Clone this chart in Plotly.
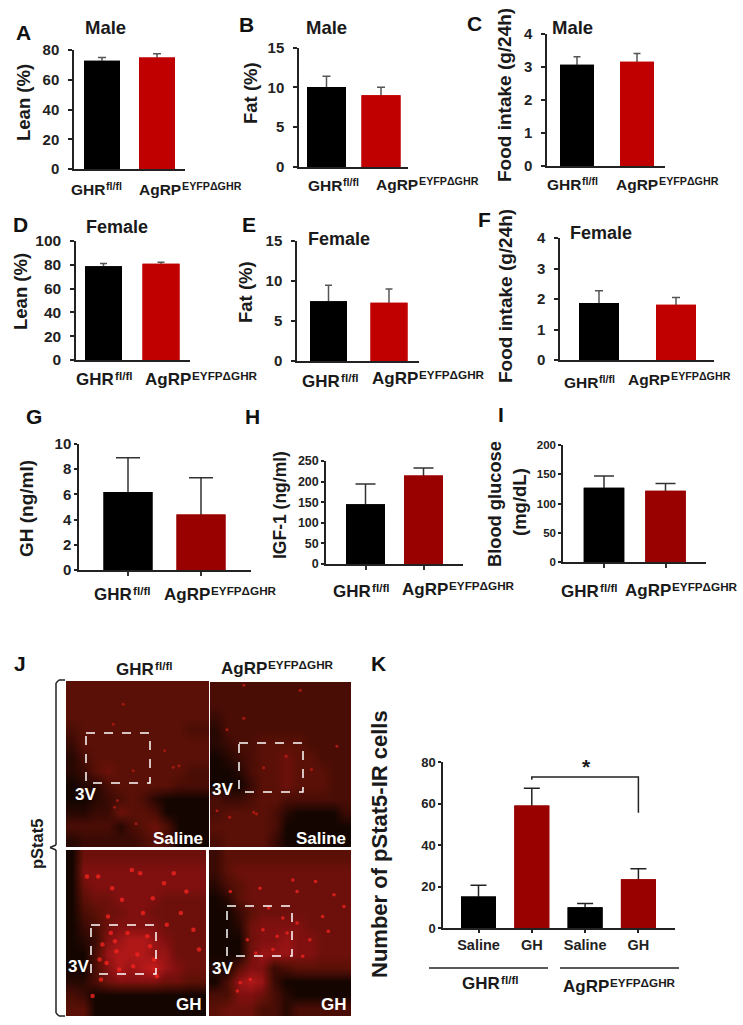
import plotly.graph_objects as go

W, H = 743, 1025
FONT = "Liberation Sans"
BLACK = "#000000"
RED_A = "#c00000"
RED_B = "#990000"

# ---------- data ----------
groups = ["GHR fl/fl", "AgRP EYFP\u0394GHR"]
lean_male = [72.8, 75.0];    lean_male_err = [2.2, 2.5]
fat_male = [10.05, 9.0];     fat_male_err = [1.35, 1.0]
food_male = [3.07, 3.16];    food_male_err = [0.24, 0.25]
lean_female = [78.8, 80.8];  lean_female_err = [2.2, 1.4]
fat_female = [7.48, 7.27];   fat_female_err = [2.0, 1.73]
food_female = [1.87, 1.81];  food_female_err = [0.40, 0.24]
gh = [6.2, 4.4];             gh_err = [2.7, 2.93]
igf1 = [145, 215];           igf1_err = [49, 18]
glucose = [127, 122];        glucose_err = [20, 12]
k_labels = ["Saline", "GH", "Saline", "GH"]
k_values = [15.2, 59, 10, 23.5]
k_err = [5.4, 8.4, 1.8, 5.1]
k_bracket_x = [1, 1, 3, 3]
k_bracket_y = [71.5, 72.8, 72.8, 55.5]

# micrograph intensity (0 dark .. 9 bright)
saline_ctrl = ["444444444444", "444444444444", "444444444444", "344444444433",
               "244444444444", "134444444444", "124544444433", "011344444333",
               "001234310000", "112254430000", "333313453000", "122222343000"]
saline_ko = ["333333333333", "333333333333", "233333333333", "133333333333",
             "123344443333", "012344544333", "001344544433", "000244544433",
             "322344333333", "344443100002", "444443000000", "344442000000"]
gh_ctrl = ["055555555555", "066666666666", "056666666666", "045566665555",
           "034556655555", "023566665555", "012678876555", "003788877555",
           "003687897655", "113566665544", "320000000000", "440000000000"]
gh_ko = ["244444444444", "245555555555", "134555555555", "014555555555",
         "002455555555", "001566665555", "000566766555", "000577766555",
         "104662344444", "037872000000", "336653100000", "455533133333"]
# bright cells: percent across, percent down
spots_saline_ctrl_x = [33, 69, 79, 47, 34, 49, 40, 75, 36]
spots_saline_ctrl_y = [26, 42, 51, 54, 76, 86, 14, 52, 72]
spots_saline_ko_x = [64, 24, 33, 5, 24, 12, 72, 54, 38, 90, 31, 14]
spots_saline_ko_y = [5, 2, 80, 78, 22, 29, 53, 45, 52, 39, 79, 82]
spots_gh_ctrl_x = [47, 15, 23, 62, 33, 26, 63, 51, 32, 36, 65, 19, 77, 91, 82, 24, 44, 58, 53, 29,
                   40, 70, 86, 30, 55, 72, 95, 35, 48, 60, 38, 25]
spots_gh_ctrl_y = [12, 16, 16, 29, 23, 57, 66, 63, 50, 61, 76, 88, 14, 48, 38, 66, 50, 52, 14, 68,
                   30, 20, 25, 40, 38, 45, 60, 55, 70, 58, 72, 78]
spots_gh_ko_x = [75, 88, 15, 62, 36, 52, 55, 71, 84, 22, 29, 38, 27, 59, 95, 45, 33, 48, 62, 20, 80, 66, 42]
spots_gh_ko_y = [19, 27, 25, 25, 23, 41, 50, 54, 49, 80, 78, 48, 54, 18, 34, 60, 62, 52, 44, 85, 40, 64, 35]

# ---------- layout constants (pixels in the page) ----------
px = lambda v: v / W
py = lambda v: 1 - v / H

panels = [
    dict(v=lean_male, e=lean_male_err, ymax=80, dt=20, L=74, R=185, T=50, B=169, c=(102, 157), bw=36, cap=4, tf=15, red=RED_A, xt=False, ec="#555555", so=6, tl=4),
    dict(v=fat_male, e=fat_male_err, ymax=15, dt=5, L=299, R=408, T=47.5, B=167, c=(326.5, 381), bw=39, cap=4, tf=15, red=RED_A, xt=False, ec="#555555", so=6, tl=4),
    dict(v=food_male, e=food_male_err, ymax=4, dt=1, L=547, R=665, T=34, B=166, c=(577, 637), bw=34, cap=3.5, tf=15, red=RED_A, xt=False, ec="#555555", so=6, tl=4),
    dict(v=lean_female, e=lean_female_err, ymax=100, dt=20, L=76, R=190, T=241, B=360, c=(103.5, 161), bw=37, cap=3.5, tf=15.5, red=RED_A, xt=False, ec="#555555", so=6, tl=4),
    dict(v=fat_female, e=fat_female_err, ymax=15, dt=5, L=297, R=419, T=241, B=361, c=(328.5, 389), bw=37, cap=3.5, tf=15, red=RED_A, xt=False, ec="#555555", so=6, tl=4),
    dict(v=food_female, e=food_female_err, ymax=4, dt=1, L=560, R=714, T=238, B=360, c=(599, 676), bw=40, cap=4, tf=15, red=RED_A, xt=False, ec="#555555", so=6, tl=4),
    dict(v=gh, e=gh_err, ymax=10, dt=2, L=79, R=251, T=444, B=570, c=(128, 201), bw=49, cap=12, tf=15, red=RED_B, xt=True, ec="#333333", so=0, tl=3),
    dict(v=igf1, e=igf1_err, ymax=250, dt=50, L=326, R=463, T=461, B=564, c=(365.5, 423.5), bw=39, cap=10, tf=12.5, red=RED_B, xt=True, ec="#333333", so=0, tl=3),
    dict(v=glucose, e=glucose_err, ymax=200, dt=50, L=563, R=706, T=445, B=562, c=(604, 665.5), bw=40.5, cap=10, tf=11.5, red=RED_B, xt=True, ec="#333333", so=0, tl=3),
]

fig = go.Figure()
layout = {}
n = 0
for p in panels:
    n += 1
    xa, ya = f"x{n}", f"y{n}"
    u = p["c"][1] - p["c"][0]
    colors = [BLACK, p["red"]]
    fig.add_trace(go.Bar(
        x=[0, 1], y=p["v"], width=p["bw"] / u, xaxis=xa, yaxis=ya,
        marker=dict(color=colors, line_width=0), showlegend=False, hoverinfo="skip",
        error_y=dict(type="data", array=p["e"], color=p["ec"], thickness=1.5, width=p["cap"]),
    ))
    fig.add_trace(go.Bar(
        x=[0, 1], y=p["v"], width=p["bw"] / u, xaxis=xa, yaxis=ya,
        marker=dict(color=colors, line_width=0), showlegend=False,
        customdata=groups, hovertemplate="%{customdata}: %{y}<extra></extra>",
    ))
    layout[f"xaxis{n}"] = dict(
        domain=[px(p["L"]), px(p["R"])], range=[(p["L"] - p["c"][0]) / u, (p["R"] - p["c"][0]) / u],
        anchor=ya, tickvals=[0, 1], showticklabels=False, ticks="outside" if p["xt"] else "",
        ticklen=4, tickwidth=1.5, tickcolor="#333", showline=True, linecolor="#222", linewidth=1.5,
        showgrid=False, zeroline=False, automargin=False)
    layout[f"yaxis{n}"] = dict(
        domain=[py(p["B"]), py(p["T"])], range=[0, p["ymax"]], anchor=xa, dtick=p["dt"],
        ticks="outside", ticklen=p["tl"], tickwidth=1.5, tickcolor="#222", showline=True,
        linecolor="#222", linewidth=1.5, showgrid=False, zeroline=False, automargin=False,
        ticklabelstandoff=p["so"],
        tickfont=dict(family=FONT, size=p["tf"], color="#222", weight="bold"))

# panel K
n += 1
xa, ya = f"x{n}", f"y{n}"
k_x = list(range(len(k_values)))
k_colors = [BLACK, RED_B, BLACK, RED_B]
k_L, k_R, k_T, k_B, k_c0, k_u = 443, 675, 762, 928, 478.5, 53.3
fig.add_trace(go.Bar(
    x=k_x, y=k_values, width=35 / k_u, xaxis=xa, yaxis=ya, hoverinfo="skip",
    marker=dict(color=k_colors, line_width=0), showlegend=False,
    error_y=dict(type="data", array=k_err, color="#222", thickness=1.5, width=8)))
fig.add_trace(go.Bar(
    x=k_x, y=k_values, width=35 / k_u, xaxis=xa, yaxis=ya,
    marker=dict(color=k_colors, line_width=0), showlegend=False))
fig.add_trace(go.Scatter(x=k_bracket_x, y=k_bracket_y, mode="lines", xaxis=xa, yaxis=ya,
                         line=dict(color="#222", width=1.5), showlegend=False, hoverinfo="skip"))
layout[f"xaxis{n}"] = dict(
    domain=[px(k_L), px(k_R)], range=[(k_L - k_c0) / k_u, (k_R - k_c0) / k_u], anchor=ya,
    tickvals=k_x, ticktext=k_labels, ticks="outside", ticklen=3, tickwidth=1.5, tickcolor="#222",
    showline=True, linecolor="#222", linewidth=1.5, showgrid=False, zeroline=False, automargin=False,
    tickfont=dict(family=FONT, size=14.5, color="#222", weight="bold"))
layout[f"yaxis{n}"] = dict(
    domain=[py(k_B), py(k_T)], range=[0, 80], anchor=xa, dtick=20, ticks="outside", ticklen=3,
    tickwidth=1.5, tickcolor="#222", showline=True, linecolor="#222", linewidth=1.5, showgrid=False,
    zeroline=False, automargin=False, ticklabelstandoff=0,
    tickfont=dict(family=FONT, size=13, color="#222", weight="bold"))

# micrographs
scale = [[0, "#140500"], [2 / 9, "#3a0a04"], [4 / 9, "#5a1006"], [6 / 9, "#801010"],
         [8 / 9, "#b01818"], [1, "#c81c1c"]]
images = [
    (saline_ctrl, spots_saline_ctrl_x, spots_saline_ctrl_y, 66, 209, 681, 847, 3, "rgba(190,30,20,0.7)"),
    (saline_ko, spots_saline_ko_x, spots_saline_ko_y, 210, 351, 682, 847, 3, "rgba(210,30,20,0.7)"),
    (gh_ctrl, spots_gh_ctrl_x, spots_gh_ctrl_y, 66, 206, 850, 1016, 4.5, "rgba(240,35,30,0.8)"),
    (gh_ko, spots_gh_ko_x, spots_gh_ko_y, 209, 351, 850, 1016, 3.5, "rgba(240,35,30,0.8)"),
]
for grid, sx, sy, L, R, T_, B, ms, mc in images:
    n += 1
    xa, ya = f"x{n}", f"y{n}"
    z = [[int(c) for c in row] for row in grid]
    fig.add_trace(go.Heatmap(z=z, xaxis=xa, yaxis=ya, colorscale=scale, zmin=0, zmax=9,
                             showscale=False, zsmooth="best", hoverinfo="skip"))
    fig.add_trace(go.Scatter(x=[v * 0.12 - 0.5 for v in sx], y=[v * 0.12 - 0.5 for v in sy],
                             mode="markers", xaxis=xa, yaxis=ya, showlegend=False, hoverinfo="skip",
                             marker=dict(size=ms, color=mc, line_width=0)))
    layout[f"xaxis{n}"] = dict(domain=[px(L), px(R)], range=[-0.5, 11.5], anchor=ya, visible=False, automargin=False)
    layout[f"yaxis{n}"] = dict(domain=[py(B), py(T_)], range=[11.5, -0.5], anchor=xa, visible=False, automargin=False)

# ---------- text ----------
ann = []
def T(text, x, y, size, anchor="center", rot=0, color="#1a1a1a"):
    ann.append(dict(text=f"<b>{text}</b>", x=px(x), y=py(y), xref="paper", yref="paper", showarrow=False,
                    xanchor=anchor, yanchor="middle", textangle=rot,
                    font=dict(family=FONT, size=size, color=color)))

def strain(main, sup, x, y, em, size):
    T(main, x - 2, y + 1.5, size, "left")
    T(sup, x - 2 + em * size + 1, y + 1.5 - size * 0.24, size * 0.69, "left")

for s, x, y in [("A", 23, 32), ("B", 246, 24), ("C", 474, 23), ("D", 20, 225), ("E", 249, 225), ("F", 484, 220),
                ("G", 34, 417), ("H", 252, 417), ("I", 501, 414), ("J", 20, 663), ("K", 378, 663)]:
    T(s, x, y, 21, color="#111")
for s, x, y, size in [("Male", 105, 27, 18.5), ("Male", 326, 27, 18.5), ("Male", 572, 27, 18.5),
                      ("Female", 117, 227, 18), ("Female", 339, 239, 18), ("Female", 601, 233, 18)]:
    T(s, x, y, size)
for s, x, y, size in [("Lean (%)", 24, 103, 18.5), ("Fat (%)", 251, 93, 18.5), ("Food intake (g/24h)", 505, 95, 19),
                      ("Lean (%)", 20, 292, 18.5), ("Fat (%)", 245, 292, 18.5), ("Food intake (g/24h)", 505, 296, 19),
                      ("GH (ng/ml)", 26, 508, 19), ("IGF-1 (ng/ml)", 280, 505, 17.5), ("Blood glucose", 494, 504, 18.3),
                      ("(mg/dL)", 519, 502, 18.5), ("Number of pStat5-IR cells", 379, 844, 22), ("pStat5", 37, 844, 16.5)]:
    T(s, x, y, size, rot=-90)
for x, y, size in [(71, 188, 15.5), (308, 184, 15.5), (547, 183, 15.5), (76, 378, 17), (302, 380, 17), (564, 381, 15.5),
                   (94, 593, 17), (333, 590, 17), (561, 590, 17), (116, 668, 17), (462, 982, 17)]:
    strain("GHR", "fl/fl", x, y, 2.222, size)
for x, y, size in [(139, 188, 15.5), (376, 183, 15.5), (616, 183, 15.5), (145, 378, 17), (372, 377, 17), (628, 378, 15.5),
                   (164, 593, 17), (402, 588, 17), (625, 589, 17), (221, 667, 17), (563, 985, 17)]:
    strain("AgRP", "EYFP\u0394GHR", x, y, 2.722, size)
for s, x, y in [("3V", 85, 794), ("3V", 223, 789), ("3V", 78, 966), ("3V", 222, 968),
                ("Saline", 178, 838), ("Saline", 321, 838), ("GH", 189, 1004), ("GH", 334, 1004)]:
    T(s, x, y, 17, color="#ffffff")
T("*", 586, 766, 21)

# ---------- lines ----------
shapes = []
def paper_shape(**kw):
    shapes.append(dict(xref="paper", yref="paper", **kw))
for x0, y0, x1, y1 in [(86, 733, 150, 783), (239, 743, 303, 792), (91, 925, 156, 974), (227, 906, 292, 956)]:
    paper_shape(type="rect", x0=px(x0), x1=px(x1), y0=py(y0), y1=py(y1),
                line=dict(color="white", width=1.5, dash="dash"))
for x0, x1 in [(429, 548), (560, 679)]:
    paper_shape(type="line", x0=px(x0), x1=px(x1), y0=py(968), y1=py(968), line=dict(color="#222", width=1.5))
brace = [(65, 680), (59, 680), (56, 683), (56, 845), (50, 847.5), (56, 850), (56, 1013), (59, 1016), (65, 1016)]
for (a, b), (c, d) in zip(brace[:-1], brace[1:]):
    paper_shape(type="line", x0=px(a), y0=py(b), x1=px(c), y1=py(d), line=dict(color="#222", width=1.5))

fig.update_layout(template="none", width=W, height=H, margin=dict(l=0, r=0, t=0, b=0), autosize=False,
                  paper_bgcolor="white", plot_bgcolor="white", showlegend=False, barmode="overlay",
                  font=dict(family=FONT), annotations=ann, shapes=shapes, **layout)
fig.write_html("out.html", config=dict(displayModeBar=False),
               post_script="document.body.style.margin='0';document.documentElement.style.overflow='hidden';")
